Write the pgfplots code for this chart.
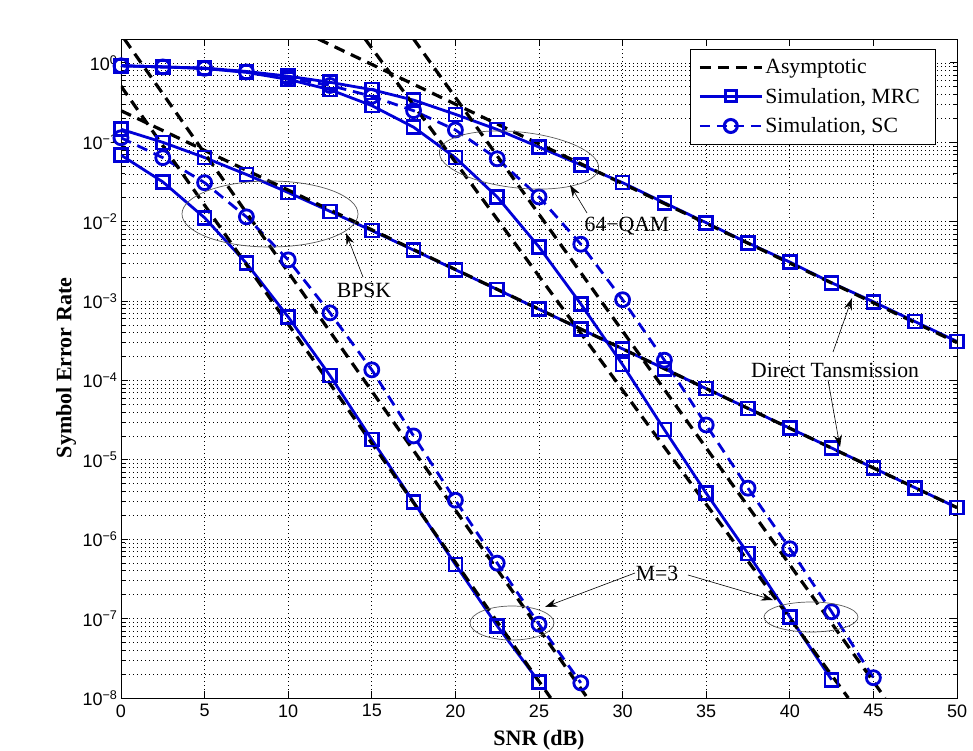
\documentclass[border=0pt]{standalone}
\usepackage{fontspec}
\setmainfont{Liberation Serif}
\setsansfont{Liberation Sans}
\usepackage{pgfplots}
\pgfplotsset{compat=1.18}
\usetikzlibrary{arrows.meta}
\definecolor{mblue}{RGB}{0,0,215}

\begin{document}
\begin{tikzpicture}[x=1pt,y=1pt]
\path[use as bounding box] (-121,-52) rectangle (852,698);
\begin{axis}[
  at={(0,0)}, anchor=south west,
  width=836pt, height=659pt, scale only axis,
  ymode=log, xmin=0, xmax=50, ymin=1e-8, ymax=2,
  xtick={0,5,10,15,20,25,30,35,40,45,50},
  xticklabels={0,5,10,15,20,25,30,35,40,45,50},
  ytick={1e-8,1e-7,1e-6,1e-5,1e-4,1e-3,1e-2,1e-1,1},
  yticklabels={10\textsuperscript{−8},10\textsuperscript{−7},10\textsuperscript{−6},10\textsuperscript{−5},10\textsuperscript{−4},10\textsuperscript{−3},10\textsuperscript{−2},10\textsuperscript{−1},10\textsuperscript{0}},
  minor ytick={2e-8,3e-8,4e-8,5e-8,6e-8,7e-8,8e-8,9e-8,
               2e-7,3e-7,4e-7,5e-7,6e-7,7e-7,8e-7,9e-7,
               2e-6,3e-6,4e-6,5e-6,6e-6,7e-6,8e-6,9e-6,
               2e-5,3e-5,4e-5,5e-5,6e-5,7e-5,8e-5,9e-5,
               2e-4,3e-4,4e-4,5e-4,6e-4,7e-4,8e-4,9e-4,
               2e-3,3e-3,4e-3,5e-3,6e-3,7e-3,8e-3,9e-3,
               2e-2,3e-2,4e-2,5e-2,6e-2,7e-2,8e-2,9e-2,
               2e-1,3e-1,4e-1,5e-1,6e-1,7e-1,8e-1,9e-1},
  tick label style={font=\fontsize{18}{20}\selectfont\sffamily},
  xticklabel style={yshift=-3pt},
  tick align=inside, tick pos=both,
  major tick length=7pt, minor tick length=4pt,
  axis line style={line width=0.9pt},
  every tick/.style={black, line width=0.8pt},
  xmajorgrids=true, ymajorgrids=true, yminorgrids=true,
  major grid style={black, line width=0.7pt, dash pattern=on 1pt off 3pt},
  minor grid style={black, line width=0.7pt, dash pattern=on 1pt off 3pt},
  legend style={at={(0.975,0.985)}, anchor=north east, draw=black, line width=0.8pt,
    font=\rmfamily\fontsize{21.7}{26}\selectfont, fill=white, inner xsep=8pt, inner ysep=8pt,
    row sep=9pt},
  legend cell align=left,
  legend image code/.code={
    \draw[mark repeat=2,mark phase=2,#1] plot coordinates {(0pt,0pt) (31pt,0pt) (62pt,0pt)};
  },
]
\addlegendimage{black, line width=3.2pt, dash pattern=on 11pt off 7pt}
\addlegendentry{Asymptotic}
\addlegendimage{mblue, line width=2.8pt, mark=square, mark size=5.5pt, mark options={solid, line width=3pt}}
\addlegendentry{Simulation, MRC\hspace*{6pt}}
\addlegendimage{mblue, line width=2.8pt, dash pattern=on 10pt off 7pt, mark=o, mark size=6.5pt, mark options={solid, line width=3pt}}
\addlegendentry{Simulation, SC}

\pgfplotsset{mrc/.style={mblue, line width=2.8pt, mark=square, mark size=6.5pt, mark options={solid, line width=2.6pt}},
             sc/.style={mblue, line width=2.8pt, dash pattern=on 11pt off 7pt, mark=o, mark size=7pt, mark options={solid, line width=2.8pt}},
             asy/.style={black, line width=3.2pt, dash pattern=on 11pt off 7pt}}

% BPSK direct transmission
\addplot[mrc, forget plot] coordinates {
(0,0.146) (2.5,0.0999) (5,0.0642) (7.5,0.0393) (10,0.0233) (12.5,0.0135) (15,0.00772)
(17.5,0.00439) (20,0.00248) (22.5,0.0014) (25,7.88e-4) (27.5,4.44e-4) (30,2.5e-4)
(32.5,1.405e-4) (35,7.9e-5) (37.5,4.45e-5) (40,2.5e-5) (42.5,1.41e-5) (45,7.9e-6)
(47.5,4.45e-6) (50,2.5e-6)};
% BPSK MRC M=3
\addplot[mrc, forget plot] coordinates {
(0,0.069) (2.5,0.0317) (5,0.0112) (7.5,0.0030) (10,6.3e-4) (12.5,1.15e-4) (15,1.8e-5)
(17.5,2.95e-6) (20,4.8e-7) (22.5,8.1e-8) (25,1.6e-8)};
% BPSK SC M=3
\addplot[sc, forget plot] coordinates {
(0,0.114) (2.5,0.064) (5,0.031) (7.5,0.0115) (10,0.0033) (12.5,7.1e-4) (15,1.36e-4)
(17.5,2.0e-5) (20,3.1e-6) (22.5,5.0e-7) (25,8.5e-8) (27.5,1.55e-8)};
% 64-QAM SC M=3
\addplot[sc, forget plot] coordinates {
(0,0.92) (2.5,0.89) (5,0.855) (7.5,0.77) (10,0.65) (12.5,0.52) (15,0.38) (17.5,0.25)
(20,0.143) (22.5,0.062) (25,0.0205) (27.5,0.0052) (30,1.04e-3) (32.5,1.8e-4)
(35,2.75e-5) (37.5,4.4e-6) (40,7.6e-7) (42.5,1.22e-7) (45,1.8e-8)};
% 64-QAM direct transmission
\addplot[mrc, forget plot] coordinates {
(0,0.92) (2.5,0.89) (5,0.86) (7.5,0.78) (10,0.68) (12.5,0.57) (15,0.46) (17.5,0.34)
(20,0.225) (22.5,0.145) (25,0.087) (27.5,0.052) (30,0.031) (32.5,0.0173) (35,0.0097)
(37.5,0.0054) (40,0.0031) (42.5,0.0017) (45,9.8e-4) (47.5,5.5e-4) (50,3.1e-4)};
% 64-QAM MRC M=3
\addplot[mrc, forget plot] coordinates {
(0,0.92) (2.5,0.89) (5,0.85) (7.5,0.76) (10,0.62) (12.5,0.46) (15,0.29) (17.5,0.155)
(20,0.064) (22.5,0.0205) (25,0.0048) (27.5,9.2e-4) (30,1.58e-4) (32.5,2.4e-5)
(35,3.8e-6) (37.5,6.6e-7) (40,1.05e-7) (42.5,1.7e-8)};

% --- Asymptotic (dashed black)
\addplot[asy, forget plot] coordinates {(0,0.25) (50,2.5e-6)};
\addplot[asy, forget plot] coordinates {(11.8,2) (50,3.0e-4)};
\addplot[asy, forget plot] coordinates {(0,0.51) (25.7,1e-8)};
\addplot[asy, forget plot] coordinates {(0.2,2) (27.9,1e-8)};
\addplot[asy, forget plot] coordinates {(14.6,2) (43.5,1e-8)};
\addplot[asy, forget plot] coordinates {(17.5,2) (45.7,1e-8)};
\end{axis}

% annotations (pixel-based coordinates relative to axis box)
\begin{scope}[every node/.style={font=\fontsize{21.7}{26}\selectfont}]
\draw[gray!70!black, line width=0.7pt] (149,484) ellipse [x radius=88, y radius=33];
\draw[gray!70!black, line width=0.7pt, rotate around={-6:(398,538)}] (398,538) ellipse [x radius=80, y radius=28];
\draw[gray!70!black, line width=0.7pt] (391,75) ellipse [x radius=42, y radius=17];
\draw[gray!70!black, line width=0.7pt] (690,81) ellipse [x radius=47, y radius=15];
\node at (243,408) {BPSK};
\node at (506,472) {64−QAM};
\node at (714,328) {Direct Tansmission};
\node at (536,125) {M=3};
\draw[-{Stealth[length=12pt,width=8pt]}, line width=0.6pt] (242,421) -- (225,465);
\draw[-{Stealth[length=12pt,width=8pt]}, line width=0.6pt] (466,485) -- (449,513);
\draw[-{Stealth[length=12pt,width=8pt]}, line width=0.6pt] (712,346) -- (731,400);
\draw[-{Stealth[length=12pt,width=8pt]}, line width=0.6pt] (707,318) -- (719,251);
\draw[-{Stealth[length=12pt,width=8pt]}, line width=0.6pt] (514,125) -- (424,91);
\draw[-{Stealth[length=12pt,width=8pt]}, line width=0.6pt] (567,123) -- (652,98);
\end{scope}

\node[font=\fontsize{22}{26}\selectfont\bfseries] at (418,-42) {SNR (dB)};
\node[font=\fontsize{22}{26}\selectfont\bfseries, rotate=90] at (-55,330) {Symbol Error Rate};
\end{tikzpicture}
\end{document}
